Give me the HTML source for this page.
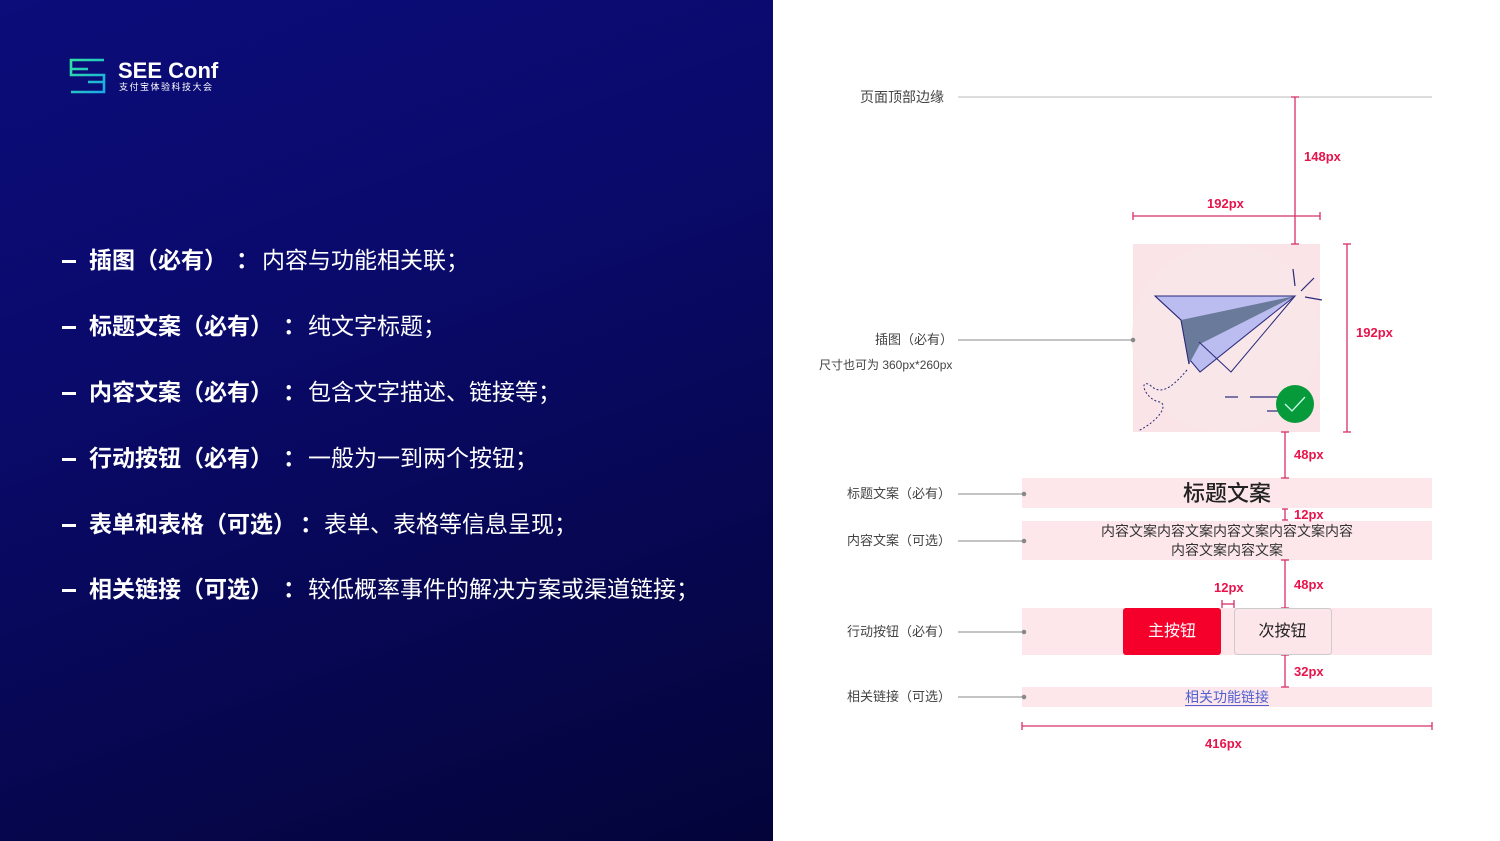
<!DOCTYPE html>
<html><head><meta charset="utf-8">
<style>
*{margin:0;padding:0;box-sizing:border-box}
body{width:1500px;height:841px;overflow:hidden;position:relative;background:#fff;font-family:"Liberation Sans","Noto Sans CJK SC",sans-serif}
#left{position:absolute;left:0;top:0;width:773px;height:841px;background:linear-gradient(160deg,#0c0c7a 0%,#0a0a6c 35%,#070755 65%,#04043a 100%)}
.it{position:absolute;left:0;height:30px;color:#fff;font-size:23px;line-height:30px;white-space:nowrap}
.it .d{position:absolute;left:62px;top:15px;width:14px;height:3px;background:#fff}
.it b{position:absolute;left:89px;font-weight:700}
.it .c{position:absolute;font-weight:700}
.it .t{position:absolute;font-weight:400}
.lbl{position:absolute;font-size:13px;color:#444;white-space:nowrap;line-height:16px}
.red{position:absolute;font-size:13px;color:#e8134a;font-weight:700;white-space:nowrap;line-height:16px}
</style></head><body>
<div id="left">
  <svg style="position:absolute;left:68px;top:58px" width="40" height="36" viewBox="0 0 40 36">
    <defs><linearGradient id="g" x1="0" y1="0" x2="1" y2="1"><stop offset="0" stop-color="#2fe3a0"/><stop offset="1" stop-color="#1aa8e8"/></linearGradient></defs>
    <path d="M36 2 H3 V17 H36 V34 H3 M3 11 H20 M20 24 H36" fill="none" stroke="url(#g)" stroke-width="2.6"/>
  </svg>
  <div style="position:absolute;left:118px;top:58px;color:#fff;font-size:22px;font-weight:700;line-height:26px">SEE Conf</div>
  <div style="position:absolute;left:119px;top:82px;color:#fff;font-size:9px;letter-spacing:1.5px;line-height:11px">支付宝体验科技大会</div>

  <div class="it" style="top:245px"><span class="d"></span><b>插图（必有）</b><span class="c" style="left:236px">：</span><span class="t" style="left:262px">内容与功能相关联；</span></div>
  <div class="it" style="top:311px"><span class="d"></span><b>标题文案（必有）</b><span class="c" style="left:283px">：</span><span class="t" style="left:308px">纯文字标题；</span></div>
  <div class="it" style="top:377px"><span class="d"></span><b>内容文案（必有）</b><span class="c" style="left:283px">：</span><span class="t" style="left:308px">包含文字描述、链接等；</span></div>
  <div class="it" style="top:443px"><span class="d"></span><b>行动按钮（必有）</b><span class="c" style="left:283px">：</span><span class="t" style="left:308px">一般为一到两个按钮；</span></div>
  <div class="it" style="top:509px"><span class="d"></span><b>表单和表格（可选）</b><span class="c" style="left:300px">：</span><span class="t" style="left:324px">表单、表格等信息呈现；</span></div>
  <div class="it" style="top:574px"><span class="d"></span><b>相关链接（可选）</b><span class="c" style="left:283px">：</span><span class="t" style="left:308px">较低概率事件的解决方案或渠道链接；</span></div>
</div>

<svg style="position:absolute;left:0;top:0" width="1500" height="841">
  <line x1="958" y1="97" x2="1432" y2="97" stroke="#bbb" stroke-width="1"/>
  <rect x="1133" y="244" width="187" height="188" fill="#fbe4e7"/>
  <circle cx="1226" cy="338" r="94" fill="#f8e6e8"/>
  <rect x="1022" y="478" width="410" height="30" fill="#fde7ea"/>
  <rect x="1022" y="521" width="410" height="39" fill="#fde7ea"/>
  <rect x="1022" y="608" width="410" height="47" fill="#fde7ea"/>
  <rect x="1022" y="687" width="410" height="20" fill="#fde7ea"/>
  <polygon points="1155,296 1295,296 1200,372 1190,360 1189,364 1181,320" fill="#bbbdf0" stroke="#2a2a7a" stroke-width="1"/>
  <polygon points="1181,320 1295,296 1200,344 1189,364" fill="#6a7a9a"/>
  <polyline points="1155,296 1181,320 1189,364" fill="none" stroke="#2a2a7a" stroke-width="1"/>
  <polyline points="1199,342 1231,372 1295,296" fill="none" stroke="#2a2a7a" stroke-width="1"/>
  <line x1="1293" y1="269" x2="1295" y2="286" stroke="#2a2a7a" stroke-width="1.2"/>
  <line x1="1301" y1="291" x2="1314" y2="278" stroke="#2a2a7a" stroke-width="1.2"/>
  <line x1="1305" y1="297" x2="1322" y2="300" stroke="#2a2a7a" stroke-width="1.2"/>
  <path d="M1187,370 C1170,390 1160,395 1150,385 C1138,378 1145,400 1160,402 C1168,405 1160,420 1138,431" fill="none" stroke="#2a2a7a" stroke-width="1" stroke-dasharray="2,2"/>
  <line x1="1225" y1="397" x2="1238" y2="397" stroke="#2a2a7a" stroke-width="1.2"/>
  <line x1="1250" y1="397" x2="1280" y2="397" stroke="#2a2a7a" stroke-width="1.2"/>
  <line x1="1267" y1="411" x2="1280" y2="411" stroke="#2a2a7a" stroke-width="1.2"/>
  <circle cx="1295" cy="404" r="19" fill="#079a3a"/>
  <polyline points="1285,404 1292,411 1305,397" fill="none" stroke="#cfe" stroke-width="1.3"/>
  <g stroke="#888" stroke-width="1" fill="#888">
    <line x1="958" y1="340" x2="1133" y2="340"/><circle cx="1133" cy="340" r="1.8"/>
    <line x1="958" y1="494" x2="1024" y2="494"/><circle cx="1024" cy="494" r="1.8"/>
    <line x1="958" y1="541" x2="1024" y2="541"/><circle cx="1024" cy="541" r="1.8"/>
    <line x1="958" y1="632" x2="1024" y2="632"/><circle cx="1024" cy="632" r="1.8"/>
    <line x1="958" y1="697" x2="1024" y2="697"/><circle cx="1024" cy="697" r="1.8"/>
  </g>
  <g stroke="#d8306a" stroke-width="1.3">
    <line x1="1295" y1="97" x2="1295" y2="244"/><line x1="1291" y1="97" x2="1299" y2="97"/><line x1="1291" y1="244" x2="1299" y2="244"/>
    <line x1="1133" y1="216" x2="1320" y2="216"/><line x1="1133" y1="212" x2="1133" y2="220"/><line x1="1320" y1="212" x2="1320" y2="220"/>
    <line x1="1347" y1="244" x2="1347" y2="432"/><line x1="1343" y1="244" x2="1351" y2="244"/><line x1="1343" y1="432" x2="1351" y2="432"/>
    <line x1="1285" y1="432" x2="1285" y2="478"/><line x1="1281" y1="432" x2="1289" y2="432"/><line x1="1281" y1="478" x2="1289" y2="478"/>
    <line x1="1285" y1="509" x2="1285" y2="520"/><line x1="1282" y1="509" x2="1288" y2="509"/><line x1="1282" y1="520" x2="1288" y2="520"/>
    <line x1="1285" y1="560" x2="1285" y2="608"/><line x1="1281" y1="560" x2="1289" y2="560"/><line x1="1281" y1="608" x2="1289" y2="608"/>
    <line x1="1222" y1="604" x2="1234" y2="604"/><line x1="1222" y1="600" x2="1222" y2="608"/><line x1="1234" y1="600" x2="1234" y2="608"/>
    <line x1="1285" y1="655" x2="1285" y2="687"/><line x1="1281" y1="655" x2="1289" y2="655"/><line x1="1281" y1="687" x2="1289" y2="687"/>
    <line x1="1022" y1="726" x2="1432" y2="726"/><line x1="1022" y1="722" x2="1022" y2="730"/><line x1="1432" y1="722" x2="1432" y2="730"/>
  </g>
  <rect x="1123" y="608" width="98" height="47" rx="3" fill="#f5002a"/>
  <rect x="1234.5" y="608.5" width="97" height="46" rx="3" fill="#fce6e9" stroke="#ccc"/>
</svg>

<div class="lbl" style="left:860px;top:89px;font-size:14px">页面顶部边缘</div>
<div class="lbl" style="left:875px;top:332px">插图（必有）</div>
<div class="lbl" style="left:819px;top:357px;font-size:12px">尺寸也可为 360px*260px</div>
<div class="lbl" style="left:847px;top:486px">标题文案（必有）</div>
<div class="lbl" style="left:847px;top:533px">内容文案（可选）</div>
<div class="lbl" style="left:847px;top:624px">行动按钮（必有）</div>
<div class="lbl" style="left:847px;top:689px">相关链接（可选）</div>

<div class="red" style="left:1304px;top:149px">148px</div>
<div class="red" style="left:1207px;top:196px">192px</div>
<div class="red" style="left:1356px;top:325px">192px</div>
<div class="red" style="left:1294px;top:447px">48px</div>
<div class="red" style="left:1294px;top:507px">12px</div>
<div class="red" style="left:1214px;top:580px">12px</div>
<div class="red" style="left:1294px;top:577px">48px</div>
<div class="red" style="left:1294px;top:664px">32px</div>
<div class="red" style="left:1205px;top:736px">416px</div>

<div style="position:absolute;left:1022px;width:410px;top:479px;text-align:center;font-size:22px;line-height:30px;color:#222;font-weight:500">标题文案</div>
<div style="position:absolute;left:1022px;width:410px;top:522px;text-align:center;font-size:14px;line-height:19px;color:#333">内容文案内容文案内容文案内容文案内容<br>内容文案内容文案</div>
<div style="position:absolute;left:1123px;width:98px;top:608px;text-align:center;font-size:16px;line-height:47px;color:#fff">主按钮</div>
<div style="position:absolute;left:1234px;width:97px;top:608px;text-align:center;font-size:16px;line-height:47px;color:#222">次按钮</div>
<div style="position:absolute;left:1022px;width:410px;top:688px;text-align:center;font-size:14px;line-height:18px;color:#5060d0"><span style="border-bottom:1px solid #5060d0">相关功能链接</span></div>
</body></html>
